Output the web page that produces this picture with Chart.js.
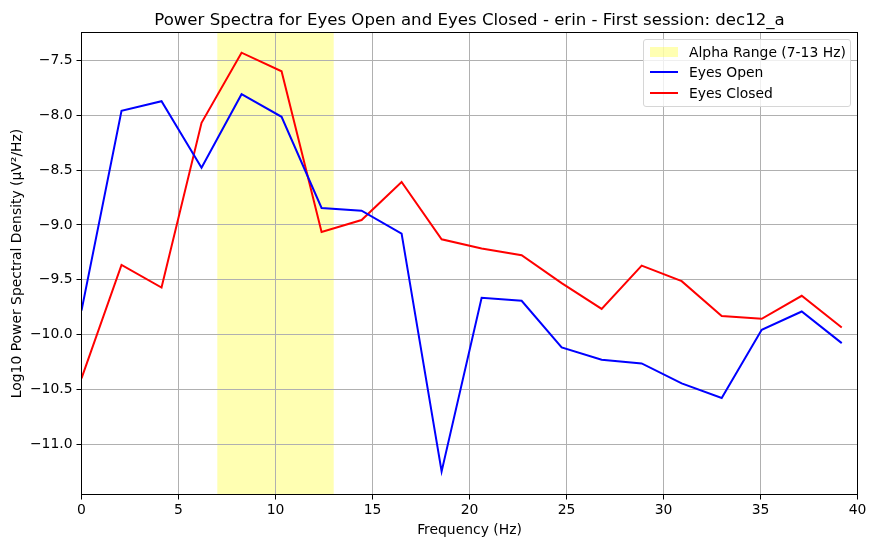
<!DOCTYPE html>
<html>
<head>
<meta charset="utf-8">
<script src="https://cdn.jsdelivr.net/npm/chart.js@4"></script>
<style>
  body { margin: 0; background: #fff; }
  #wrap { position: relative; width: 875px; height: 547px; }
  #legend {
    position: absolute; left: 643px; top: 39px; width: 206px; height: 66px;
    border: 1px solid #d6d6d6; border-radius: 3px; background: rgba(255,255,255,0.8);
    font-family: 'DejaVu Sans', sans-serif; font-size: 13.9px; color: #000;
  }
  .row { position: absolute; left: 0; height: 20px; width: 100%; }
  .row span { position: absolute; left: 45px; top: 0; line-height: 20px; white-space: nowrap; }
  .patch { position: absolute; left: 6px; top: 5px; width: 28px; height: 10px; background: rgba(255,255,0,0.3); }
  .line { position: absolute; left: 6px; top: 9px; width: 28px; height: 2px; }
</style>
</head>
<body>
<div id="wrap">
  <canvas id="grafico" width="875" height="547"></canvas>
  <div id="legend"></div>
</div>
<script>
// frequencies (Hz) of the spectral estimates
const freqs = [0, 2.0625, 4.125, 6.1875, 8.25, 10.3125, 12.375, 14.4375, 16.5, 18.5625,
               20.625, 22.6875, 24.75, 26.8125, 28.875, 30.9375, 33.0, 35.0625, 37.125, 39.1875];
const eyesOpen = [-9.78, -7.96, -7.873, -8.479, -7.809, -8.015, -8.845, -8.87, -9.079, -11.245,
                  -9.664, -9.691, -10.115, -10.227, -10.261, -10.443, -10.576, -9.955, -9.788, -10.076];
const eyesClosed = [-10.397, -9.364, -9.57, -8.07, -7.431, -7.6, -9.064, -8.955, -8.609, -9.131,
                    -9.215, -9.276, -9.53, -9.764, -9.37, -9.512, -9.83, -9.855, -9.645, -9.934];
const alphaBand = [7, 13];
const yTicks = [-11.0, -10.5, -10.0, -9.5, -9.0, -8.5, -8.0, -7.5];
const xTicks = [0, 5, 10, 15, 20, 25, 30, 35, 40];
const titleText = 'Power Spectra for Eyes Open and Eyes Closed - erin - First session: dec12_a';

const legendItems = [
    { label: 'Alpha Range (7-13 Hz)', kind: 'patch' },
    { label: 'Eyes Open', kind: 'line', color: '#0000ff' },
    { label: 'Eyes Closed', kind: 'line', color: '#ff0000' }
];

Chart.defaults.font.family = "'DejaVu Sans', sans-serif";
Chart.defaults.color = '#000';

// shaded alpha band under the grid, frame and title on top
const bandPlugin = {
    id: 'band',
    beforeDraw(chart) {
        const { ctx, chartArea, scales } = chart;
        const x0 = scales.x.getPixelForValue(alphaBand[0]);
        const x1 = scales.x.getPixelForValue(alphaBand[1]);
        ctx.save();
        ctx.fillStyle = 'rgba(255,255,0,0.3)';
        ctx.fillRect(x0, chartArea.top, x1 - x0, chartArea.bottom - chartArea.top);
        ctx.restore();
    },
    afterDraw(chart) {
        const { ctx, chartArea } = chart;
        ctx.save();
        ctx.strokeStyle = '#000';
        ctx.lineWidth = 1;
        ctx.strokeRect(chartArea.left, chartArea.top,
                       chartArea.right - chartArea.left, chartArea.bottom - chartArea.top);
        // title centred over the axes, not the canvas
        ctx.fillStyle = '#000';
        ctx.font = "16.6px 'DejaVu Sans', sans-serif";
        ctx.textAlign = 'center';
        ctx.textBaseline = 'alphabetic';
        ctx.fillText(titleText, (chartArea.left + chartArea.right) / 2, 24.5);
        ctx.restore();
    }
};

const minus = v => v.toFixed(1).replace('-', '\u2212');

const ctx = document.getElementById('grafico').getContext('2d');
new Chart(ctx, {
    type: 'line',
    data: {
        datasets: [{
            label: 'Eyes Open',
            data: freqs.map((f, i) => ({ x: f, y: eyesOpen[i] })),
            borderColor: '#0000ff',
            borderWidth: 2,
            pointRadius: 0,
            tension: 0
        }, {
            label: 'Eyes Closed',
            data: freqs.map((f, i) => ({ x: f, y: eyesClosed[i] })),
            borderColor: '#ff0000',
            borderWidth: 2,
            pointRadius: 0,
            tension: 0
        }]
    },
    options: {
        responsive: false,
        animation: false,
        layout: { padding: { left: 0, right: 17.5, top: 32.5, bottom: 0 } },
        plugins: {
            legend: { display: false },
            tooltip: { enabled: false },
            title: { display: false }
        },
        scales: {
            x: {
                type: 'linear',
                min: 0,
                max: 40,
                afterBuildTicks: s => { s.ticks = xTicks.map(v => ({ value: v })); },
                afterFit: s => { s.height = 52.5; },
                grid: { color: '#b0b0b0', tickColor: '#000', tickLength: 5, lineWidth: 1 },
                border: { display: false },
                ticks: { font: { size: 13.9 }, padding: 3, maxRotation: 0 },
                title: {
                    display: true,
                    text: 'Frequency (Hz)',
                    font: { size: 13.9 },
                    padding: { top: 0, bottom: 8.7 }
                }
            },
            y: {
                min: -11.455,
                max: -7.247,
                afterBuildTicks: s => { s.ticks = yTicks.map(v => ({ value: v })); },
                afterFit: s => { s.width = 81.5; },
                grid: { color: '#b0b0b0', tickColor: '#000', tickLength: 5, lineWidth: 1 },
                border: { display: false },
                ticks: { font: { size: 13.9 }, padding: 4, callback: v => minus(v) },
                title: {
                    display: true,
                    text: 'Log10 Power Spectral Density (µV²/Hz)',
                    font: { size: 13.9 },
                    padding: { top: 8.7, bottom: 0 }
                }
            }
        }
    },
    plugins: [bandPlugin]
});

// legend box in the corner of the axes, like the original
const legend = document.getElementById('legend');
legendItems.forEach((item, i) => {
    const row = document.createElement('div');
    row.className = 'row';
    row.style.top = (2 + i * 20.3) + 'px';
    const mark = document.createElement('div');
    mark.className = item.kind;
    if (item.color) mark.style.background = item.color;
    const text = document.createElement('span');
    text.textContent = item.label;
    row.appendChild(mark);
    row.appendChild(text);
    legend.appendChild(row);
});
</script>
</body>
</html>
